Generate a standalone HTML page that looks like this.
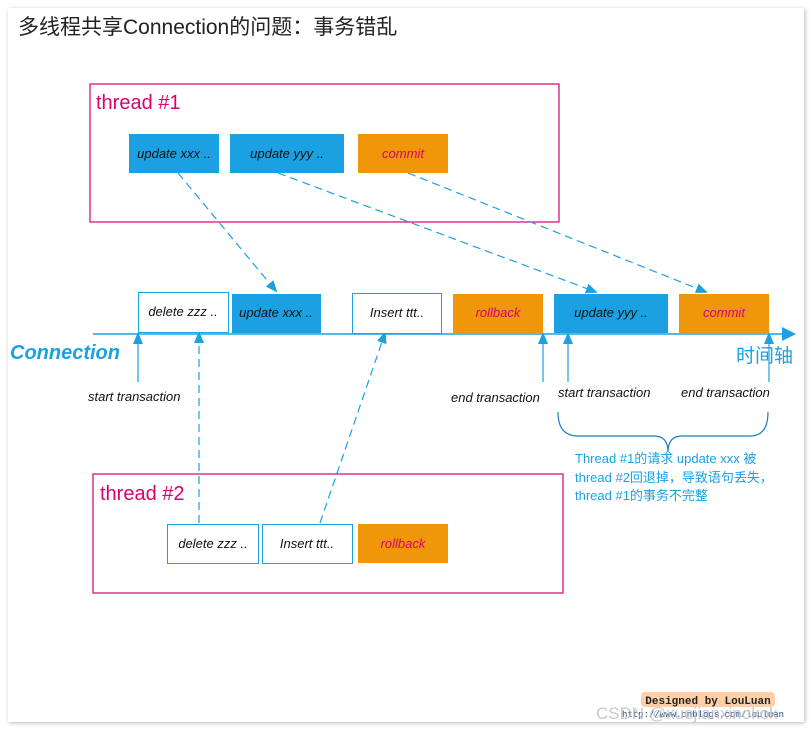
<!DOCTYPE html>
<html><head><meta charset="utf-8"><style>
body{margin:0;background:#fff;}
svg{display:block;font-family:"Liberation Sans","Noto Sans CJK SC",sans-serif;}
.i{font-style:italic;font-size:13px;}
</style></head><body>
<svg width="812" height="732" viewBox="0 0 812 732">
<defs>
<marker id="a" markerWidth="12" markerHeight="12" refX="10" refY="5" orient="auto" markerUnits="userSpaceOnUse"><path d="M0,0 L12,5 L0,10 z" fill="#1ba1e2"/></marker>
<filter id="sh" x="-5%" y="-5%" width="110%" height="110%"><feDropShadow dx="1" dy="1" stdDeviation="2" flood-color="#888" flood-opacity="0.6"/></filter>
</defs>
<rect x="8" y="8" width="796" height="714" fill="#fff" filter="url(#sh)"/>
<text x="18" y="34" font-size="21" fill="#222">多线程共享Connection的问题：事务错乱</text>

<rect x="90" y="84" width="469" height="138" fill="none" stroke="#d80073" stroke-width="1.2"/>
<text x="96" y="109" font-size="20" fill="#d80073">thread #1</text>
<rect x="129" y="134" width="90" height="39" fill="#1ba1e2"/>
<text x="174" y="158" class="i" text-anchor="middle" fill="#111">update xxx ..</text>
<rect x="230" y="134" width="114" height="39" fill="#1ba1e2"/>
<text x="287" y="158" class="i" text-anchor="middle" fill="#111">update yyy ..</text>
<rect x="358" y="134" width="90" height="39" fill="#f0960a"/>
<text x="403" y="158" class="i" text-anchor="middle" fill="#d80073">commit</text>

<g stroke="#1ba1e2" stroke-width="1.2" stroke-dasharray="8,5" fill="none">
<line x1="178" y1="173" x2="276" y2="291" marker-end="url(#a)"/>
<line x1="278" y1="173" x2="596" y2="292" marker-end="url(#a)"/>
<line x1="408" y1="173" x2="706" y2="292" marker-end="url(#a)"/>
<line x1="199" y1="523" x2="199" y2="333" marker-end="url(#a)"/>
<line x1="320" y1="523" x2="385" y2="333" marker-end="url(#a)"/>
</g>

<rect x="138.5" y="292.5" width="90" height="40" fill="#fff" stroke="#1ba1e2"/>
<text x="183" y="316" class="i" text-anchor="middle" fill="#111">delete zzz ..</text>
<rect x="232" y="294" width="89" height="39" fill="#1ba1e2"/>
<text x="276" y="317" class="i" text-anchor="middle" fill="#111">update xxx ..</text>
<rect x="352.5" y="293.5" width="89" height="40" fill="#fff" stroke="#1ba1e2"/>
<text x="397" y="317" class="i" text-anchor="middle" fill="#111">Insert ttt..</text>
<rect x="453" y="294" width="90" height="39" fill="#f0960a"/>
<text x="498" y="317" class="i" text-anchor="middle" fill="#d80073">rollback</text>
<rect x="554" y="294" width="114" height="39" fill="#1ba1e2"/>
<text x="611" y="317" class="i" text-anchor="middle" fill="#111">update yyy ..</text>
<rect x="679" y="294" width="90" height="39" fill="#f0960a"/>
<text x="724" y="317" class="i" text-anchor="middle" fill="#d80073">commit</text>

<line x1="93" y1="334" x2="785" y2="334" stroke="#1ba1e2" stroke-width="1.5"/>
<path d="M782,327 L796,334 L782,341z" fill="#1ba1e2"/>
<text x="10" y="359" font-size="20" font-weight="bold" font-style="italic" fill="#1ba1e2">Connection</text>
<text x="736" y="362" font-size="19" fill="#1ba1e2">时间轴</text>

<g stroke="#1ba1e2" stroke-width="1.2">
<line x1="138" y1="382" x2="138" y2="334" marker-end="url(#a)"/>
<line x1="543" y1="382" x2="543" y2="334" marker-end="url(#a)"/>
<line x1="568" y1="382" x2="568" y2="334" marker-end="url(#a)"/>
<line x1="769" y1="382" x2="769" y2="334" marker-end="url(#a)"/>
</g>
<text x="88" y="401" class="i" fill="#111">start transaction</text>
<text x="451" y="402" class="i" fill="#111">end transaction</text>
<text x="558" y="397" class="i" fill="#111">start transaction</text>
<text x="681" y="397" class="i" fill="#111">end transaction</text>

<path d="M558,412 Q558,436 578,436 L654,436 Q668,436 668,452 Q668,436 682,436 L750,436 Q768,436 768,412" fill="none" stroke="#1b7fc0" stroke-width="1.2"/>
<g font-size="13" fill="#1ba1e2">
<text x="575" y="463">Thread #1的请求 update xxx 被</text>
<text x="575" y="482">thread #2回退掉，导致语句丢失，</text>
<text x="575" y="500">thread #1的事务不完整</text>
</g>

<rect x="93" y="474" width="470" height="119" fill="none" stroke="#d80073" stroke-width="1.2"/>
<text x="100" y="500" font-size="20" fill="#d80073">thread #2</text>
<rect x="167.5" y="524.5" width="91" height="39" fill="#fff" stroke="#1ba1e2"/>
<text x="213" y="548" class="i" text-anchor="middle" fill="#111">delete zzz ..</text>
<rect x="262.5" y="524.5" width="90" height="39" fill="#fff" stroke="#1ba1e2"/>
<text x="307" y="548" class="i" text-anchor="middle" fill="#111">Insert ttt..</text>
<rect x="358" y="524" width="90" height="39" fill="#f0960a"/>
<text x="403" y="548" class="i" text-anchor="middle" fill="#d80073">rollback</text>

<rect x="641" y="692" width="134" height="15" rx="4" fill="#ffd0a8"/>
<text x="708" y="704" font-size="11" font-weight="bold" text-anchor="middle" fill="#222" font-family="Liberation Mono,monospace">Designed by LouLuan</text>
<text x="622" y="717" font-size="9" fill="#2a4a8a" font-family="Liberation Mono,monospace">http://www.cnblogs.com/louluan</text>
<text x="596" y="719" font-size="17" fill="#bbb" fill-opacity="0.8">CSDN @xuejianxinokok</text>
</svg>
</body></html>
